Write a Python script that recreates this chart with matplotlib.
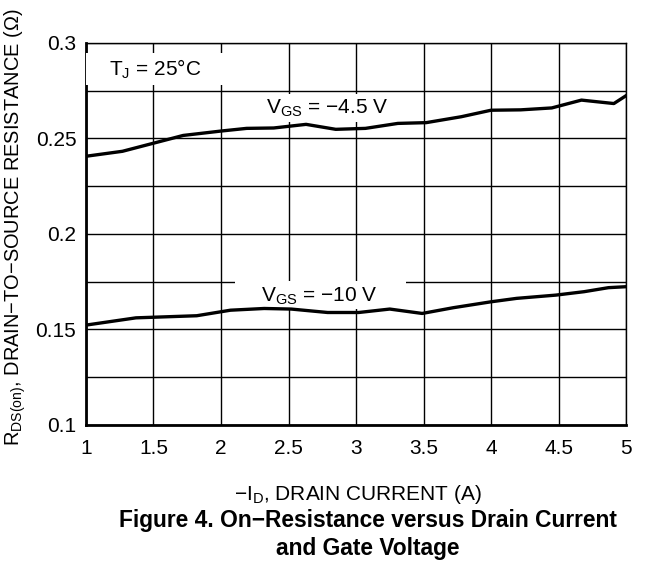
#!/usr/bin/env python3

import matplotlib
matplotlib.use('Agg')
import matplotlib.pyplot as plt
from matplotlib.patches import Rectangle
import numpy as np

plt.rcParams['font.family'] = ['Liberation Sans', 'DejaVu Sans']
plt.rcParams['mathtext.fontset'] = 'custom'
plt.rcParams['mathtext.rm'] = 'Liberation Sans'
plt.rcParams['mathtext.it'] = 'Liberation Sans'

# -I_D (A) vs R_DS(on) (ohm)
id_45 = [1.0, 1.27, 1.72, 2.0, 2.19, 2.39, 2.63, 2.85, 3.07, 3.31, 3.52,
         3.78, 4.0, 4.22, 4.45, 4.67, 4.91, 5.0]
r_45 = [0.2407, 0.2433, 0.2516, 0.2539, 0.2553, 0.2555, 0.2574, 0.2548,
        0.2553, 0.2579, 0.2583, 0.2614, 0.2648, 0.2650, 0.2660, 0.2701,
        0.2683, 0.2724]

id_10 = [1.0, 1.37, 1.82, 2.07, 2.32, 2.52, 2.79, 3.02, 3.25, 3.49, 3.72,
         4.0, 4.19, 4.48, 4.69, 4.87, 5.0]
r_10 = [0.1523, 0.1561, 0.1572, 0.1601, 0.1610, 0.1607, 0.1589, 0.1589,
        0.1607, 0.1584, 0.1614, 0.1645, 0.1663, 0.1680, 0.1698, 0.1719,
        0.1724]

xticks = [1, 1.5, 2, 2.5, 3, 3.5, 4, 4.5, 5]
yticks = [0.1, 0.15, 0.2, 0.25, 0.3]
ygrid = np.arange(0.1, 0.3001, 0.025)

fig = plt.figure(figsize=(6.5, 5.65), dpi=100)
ax = fig.add_axes([0.1323, 0.2478, 0.8308, 0.6761])

ax.plot(id_45, r_45, color='black', lw=2.4, zorder=4)
ax.plot(id_10, r_10, color='black', lw=2.4, zorder=4)

ax.set_xlim(1, 5)
ax.set_ylim(0.1, 0.3)
ax.set_xticks(xticks)
ax.set_xticklabels(['1', '1.5', '2', '2.5', '3', '3.5', '4', '4.5', '5'])
ax.set_yticks(yticks)
ax.set_yticklabels(['0.1', '0.15', '0.2', '0.25', '0.3'])
ax.set_yticks(ygrid, minor=True)
ax.tick_params(which='both', length=0, labelsize=15)
ax.tick_params(axis='x', pad=10)
ax.tick_params(axis='y', pad=7)
ax.grid(True, which='both', color='black', lw=1.0)
ax.set_axisbelow(True)

for s in ['top', 'right']:
    ax.spines[s].set_linewidth(1.0)
for s in ['left', 'bottom']:
    ax.spines[s].set_linewidth(2.0)

# label boxes
ax.add_patch(Rectangle((1.0, 0.2780), 1.08, 0.0168, facecolor='white',
                       edgecolor='none', zorder=3))
ax.text(1.17, 0.2862, r'T$_\mathrm{J}$ = 25°C', fontsize=15, va='center',
        ha='left', zorder=5)

ax.text(2.79, 0.2660, r'V$_\mathrm{GS}$ = −4.5 V', fontsize=15, va='center',
        ha='center', zorder=5,
        bbox=dict(boxstyle='square,pad=0.15', fc='white', ec='none'))

ax.add_patch(Rectangle((2.10, 0.1605), 1.27, 0.0148, facecolor='white',
                       edgecolor='none', zorder=3))
ax.text(2.73, 0.1672, r'V$_\mathrm{GS}$ = −10 V', fontsize=15, va='center',
        ha='center', zorder=5)

fig.text(0.551, 0.124, r'−I$_\mathrm{D}$, DRAIN CURRENT (A)', fontsize=15,
         ha='center', va='center')
fig.text(0.024, 0.597, r'R$_\mathrm{DS(on)}$, DRAIN−TO−SOURCE RESISTANCE (Ω)',
         fontsize=14.4, rotation=90, ha='center', va='center')

fig.text(0.566, 0.079, 'Figure 4. On−Resistance versus Drain Current',
         fontsize=16.4, fontweight='bold', ha='center', va='center')
fig.text(0.566, 0.030, 'and Gate Voltage',
         fontsize=16.4, fontweight='bold', ha='center', va='center')

fig.savefig('out.png', dpi=100)
